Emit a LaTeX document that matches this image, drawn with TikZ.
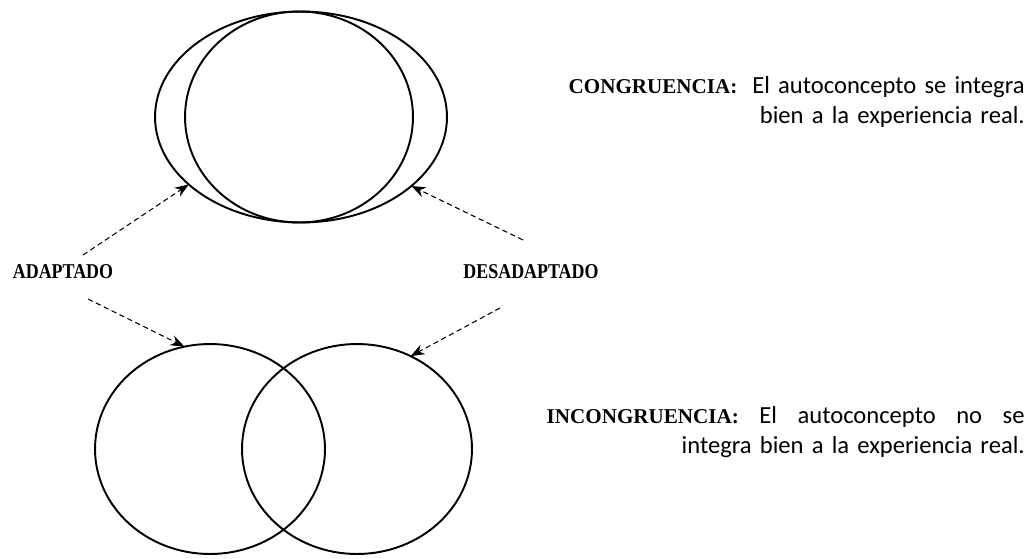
\documentclass[tikz,border=0pt]{standalone}
\usepackage{fontspec}
\setmainfont{Carlito}
\newfontfamily\headfont{Liberation Serif}
\usetikzlibrary{shapes.geometric, positioning, arrows.meta}

% condensed bold capitals for the side labels
\newcommand{\sidelabel}[1]{\scalebox{0.85}[1]{\headfont\bfseries\fontsize{12}{14}\selectfont #1}}
% bold serif heading inside a caption
\newcommand{\capthead}[1]{{\headfont\bfseries\fontsize{12}{14}\selectfont #1}}

\begin{document}
\begin{tikzpicture}[
        x=0.02cm, y=-0.02cm,
        >={Stealth[length=8pt, width=6pt]},
        region/.style={draw, ellipse, line width=1.1pt, inner sep=0pt, outer sep=0pt},
        pointer/.style={->, densely dashed, line width=0.6pt},
        caption/.style={inner sep=0pt, text width=9.56cm, align=right,
            font=\fontsize{14}{17}\selectfont}
    ]
    \useasboundingbox (0,0) rectangle (1031,558);

    % --- Congruence: self-concept and experience nearly overlap ---
    \node[region, minimum width=5.84cm, minimum height=4.22cm] (expA) at (301,117) {};
    \node[region, minimum width=4.56cm, minimum height=4.22cm] (autoA) at (299,117) {};

    % --- Incongruence: two circles that only partly overlap ---
    \node[region, minimum width=4.6cm, minimum height=4.2cm] (autoB) at (210,449) {};
    \node[region, minimum width=4.6cm, minimum height=4.2cm] (expB) at (357,449) {};

    % --- Labels ---
    \node (adapt) at (63,272) {\sidelabel{ADAPTADO}};
    \node (desadapt) at (531,272) {\sidelabel{DESADAPTADO}};

    \node[caption, anchor=north east] (congr) at (1025,76)
        {\capthead{CONGRUENCIA:}\hspace{0.3cm}El autoconcepto se integra\\
         bien a la experiencia real.};
    \node[caption, anchor=north east] (incongr) at (1025,406)
        {\capthead{INCONGRUENCIA:}\hfill El\hfill autoconcepto\hfill no\hfill se\\
         integra bien a la experiencia real.};

    % --- Arrows ---
    \coordinate (adaptUp) at (83,255);
    \coordinate (adaptDown) at (88,299);
    \coordinate (desadaptUp) at (523,240);
    \coordinate (desadaptDown) at (500,308);

    \draw[pointer] (adaptUp) -- (expA.211);
    \draw[pointer] (desadaptUp) -- (expA.328);
    \draw[pointer] (adaptDown) -- (autoB.104);
    \draw[pointer] (desadaptDown) -- (expB.60);

\end{tikzpicture}
\end{document}
